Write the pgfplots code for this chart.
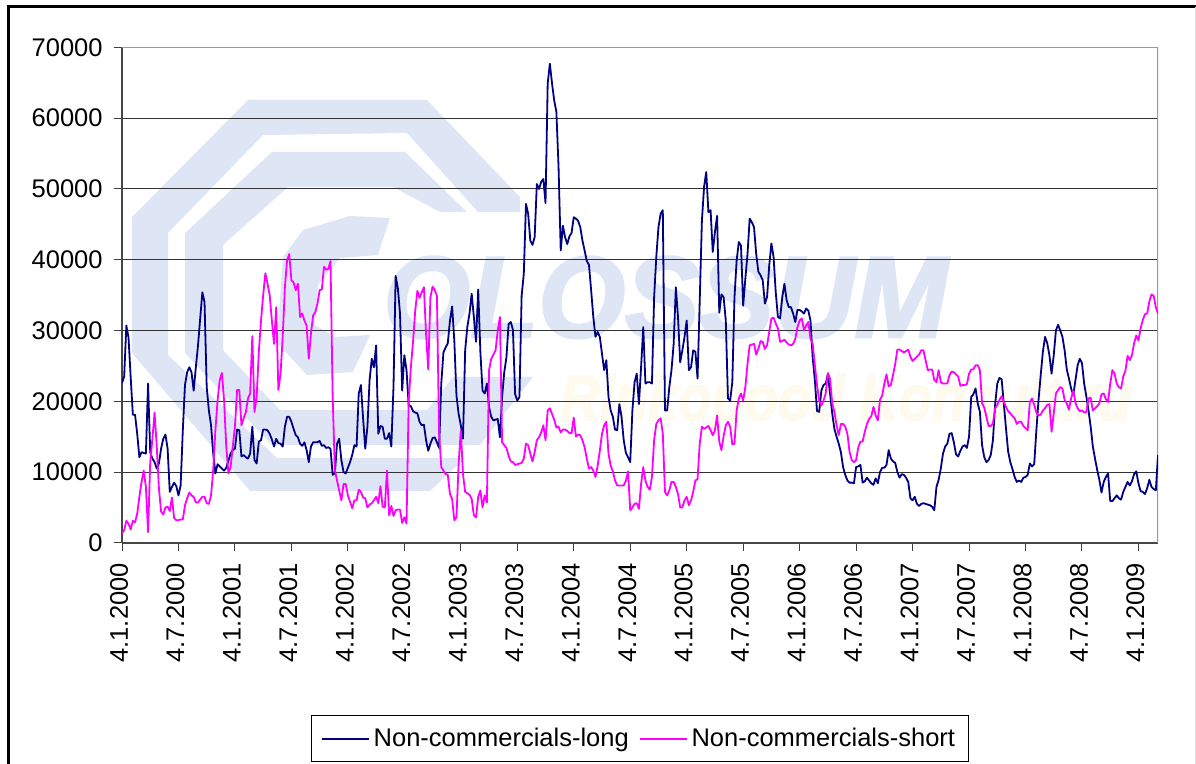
\documentclass[border=0pt]{standalone}
\usepackage{pgfplots}
\pgfplotsset{compat=1.18}
\usepackage{fontspec}
\setmainfont{Liberation Sans}
\newfontfamily\wmfont[BoldItalicFeatures={FakeBold=2.5}]{Liberation Sans}
\definecolor{wm}{HTML}{DEE6F6}
\definecolor{wmo}{HTML}{FEFAEE}
\definecolor{lng}{HTML}{000080}
\definecolor{sht}{HTML}{FF00FF}
\begin{document}
\begin{tikzpicture}
\begin{scope}[x=0.5pt,y=-0.5pt]
\useasboundingbox (0,0) rectangle (1196,764);
\fill[white] (0,0) rectangle (1196,764);
\fill[wm] (132,217)--(132,353)--(250,491)--(430,491)--(465,458)--(277,458)--(168,355)--(168,233)--(263,135)--(407,133)--(478,212)--(520,212)--(520,197)--(427,100)--(248,100)--cycle;
\fill[wm] (272,152)--(405,152)--(467,212)--(440,212)--(393,187)--(288,187)--(223,245)--(223,350)--(280,410)--(460,410)--(460,445)--(272,445)--(185,353)--(185,233)--cycle;
\fill[wm] (390,218)--(350,216)--(303,230)--(283,257)--(277,343)--(307,375)--(353,372)--(370,335)--(335,337)--(315,325)--(318,285)--(340,258)--(378,255)--cycle;
\fill[wm] (453,377)--(533,377)--(480,445)--(400,445)--cycle;
\node[anchor=base west,inner sep=0pt,text=wm,xscale=0.97] at (383,337) {\wmfont\fontsize{57.5}{60}\selectfont\bfseries\itshape OLOSSUM};
\node[anchor=base west,inner sep=0pt,text=wmo,xscale=0.85] at (560,420) {\wmfont\fontsize{32}{34}\selectfont\bfseries\itshape Rinkopood Konsult.ru};
\draw[black,line width=1.2pt] (8.5,764)--(8.5,6.5)--(1196,6.5);
\draw[black!12,line width=0.5pt] (1195,7)--(1195,764);
\end{scope}
\begin{axis}[
  at={(61pt,-271.4pt)},anchor=south west,
  scale only axis,width=518pt,height=247.7pt,
  xmin=0,xmax=477,ymin=0,ymax=70000,
  axis x line=bottom,axis y line=left,
  axis line style={draw=black!72,line width=0.75pt,-},
  ytick={0,10000,20000,30000,40000,50000,60000,70000},
  xtick={0,26,52,78,104,130,156,182,208,234,260,286,312,338,364,390,416,442,468},
  xticklabels={4.1.2000,4.7.2000,4.1.2001,4.7.2001,4.1.2002,4.7.2002,4.1.2003,4.7.2003,4.1.2004,4.7.2004,4.1.2005,4.7.2005,4.1.2006,4.7.2006,4.1.2007,4.7.2007,4.1.2008,4.7.2008,4.1.2009},
  tick align=outside,tick pos=lower,major tick length=4pt,
  tick style={draw=black!75,line width=0.5pt},
  ymajorgrids,
  major grid style={draw=black!80,line width=0.5pt},
  scaled ticks=false,
  /pgf/number format/1000 sep={},
  /pgf/number format/assume math mode=true,
  tick label style={font=\fontsize{12.75}{15}\selectfont},
  xticklabel style={rotate=90,anchor=east,xshift=-5pt,yshift=1.5pt,inner sep=1pt,/pgf/number format/.cd},
  yticklabel style={inner sep=0pt,xshift=-5.5pt},
  legend columns=2,
  legend style={at={(0.5,-0.3485)},anchor=north,draw=black,line width=0.5pt,fill=white,
    font=\fontsize{12.75}{15}\selectfont,inner xsep=4.5pt,inner ysep=4pt,
    /tikz/every even column/.append style={column sep=3pt}},
  legend image code/.code={\draw[#1] (0pt,0pt)--(21pt,0pt);\path (0pt,0pt)--(23.5pt,0pt);},
]
\draw[draw=black!40,line width=1pt] (rel axis cs:0,1)--(rel axis cs:1,1)--(rel axis cs:1,0);
\addplot[lng,line width=0.9pt,line join=round] coordinates {
(0,22600)(1,23500)(2,30700)(3,29000)(4,23400)(5,18100)(6,18100)(7,15400)(8,12100)(9,12800)
(10,12700)(11,12600)(12,22500)(13,12800)(14,11900)(15,11400)(16,10500)(17,11200)(18,13300)(19,14700)
(20,15300)(21,13300)(22,7200)(23,7900)(24,8500)(25,8000)(26,6700)(27,8100)(28,15900)(29,22300)
(30,24100)(31,24800)(32,24100)(33,21500)(34,24800)(35,27900)(36,31700)(37,35400)(38,34000)(39,22000)
(40,18700)(41,16600)(42,12600)(43,9800)(44,11100)(45,10800)(46,10500)(47,10200)(48,10600)(49,11600)
(50,12600)(51,13100)(52,13300)(53,16000)(54,15900)(55,12200)(56,12400)(57,12100)(58,11900)(59,12600)
(60,16400)(61,11700)(62,11200)(63,14300)(64,14500)(65,16000)(66,16000)(67,15900)(68,15400)(69,14600)
(70,13600)(71,14700)(72,14100)(73,14000)(74,13600)(75,16400)(76,17800)(77,17800)(78,17100)(79,16100)
(80,15200)(81,14900)(82,14000)(83,13700)(84,14200)(85,13100)(86,11400)(87,13600)(88,14200)(89,14200)
(90,14200)(91,14400)(92,13700)(93,13800)(94,13400)(95,13500)(96,13300)(97,9600)(98,9800)(99,14000)
(100,14700)(101,11700)(102,10000)(103,9800)(104,10600)(105,11400)(106,12400)(107,13800)(108,13600)(109,21100)
(110,22300)(111,17600)(112,13300)(113,16400)(114,23000)(115,26000)(116,24800)(117,27900)(118,15400)(119,16500)
(120,16400)(121,14700)(122,14700)(123,15500)(124,13600)(125,22000)(126,37700)(127,36000)(128,32400)(129,21500)
(130,26500)(131,24400)(132,19400)(133,19300)(134,18600)(135,18400)(136,18300)(137,17100)(138,16600)(139,16700)
(140,14500)(141,13000)(142,14000)(143,14800)(144,14900)(145,14200)(146,13400)(147,22500)(148,26900)(149,27600)
(150,28200)(151,31400)(152,33400)(153,28600)(154,20800)(155,18200)(156,16600)(157,14700)(158,27200)(159,30500)
(160,32400)(161,35200)(162,31900)(163,28400)(164,35800)(165,27000)(166,21500)(167,21100)(168,22500)(169,19200)
(170,17800)(171,17300)(172,17400)(173,17500)(174,14900)(175,20600)(176,24100)(177,26200)(178,30900)(179,31200)
(180,30100)(181,21000)(182,20100)(183,20600)(184,34900)(185,38000)(186,47900)(187,46500)(188,42700)(189,42100)
(190,43200)(191,50700)(192,50000)(193,51000)(194,51400)(195,48000)(196,64900)(197,67700)(198,64900)(199,62500)
(200,60900)(201,53100)(202,41300)(203,44800)(204,43200)(205,42200)(206,43300)(207,43800)(208,46000)(209,45800)
(210,45500)(211,44600)(212,42700)(213,41300)(214,39800)(215,39300)(216,35700)(217,31900)(218,29100)(219,29800)
(220,29100)(221,26700)(222,24400)(223,25800)(224,20600)(225,18700)(226,17800)(227,16000)(228,15900)(229,19600)
(230,17800)(231,14500)(232,12700)(233,12100)(234,11400)(235,18700)(236,22700)(237,23900)(238,19600)(239,24800)
(240,30500)(241,22500)(242,22700)(243,22700)(244,22500)(245,34700)(246,40400)(247,44600)(248,46500)(249,47000)
(250,18700)(251,18700)(252,22000)(253,24400)(254,28100)(255,36100)(256,31900)(257,25500)(258,27200)(259,29100)
(260,31400)(261,24400)(262,24800)(263,27200)(264,27000)(265,23200)(266,34200)(267,45500)(268,50300)(269,52400)
(270,46700)(271,47000)(272,41100)(273,43900)(274,46200)(275,32500)(276,35100)(277,34700)(278,31400)(279,20400)
(280,20100)(281,22700)(282,34700)(283,39900)(284,42500)(285,42000)(286,33500)(287,37300)(288,40800)(289,45800)
(290,45300)(291,44600)(292,40800)(293,38300)(294,37800)(295,37100)(296,33800)(297,34700)(298,39200)(299,42300)
(300,40400)(301,35400)(302,31900)(303,31700)(304,34700)(305,36600)(306,34300)(307,33300)(308,33300)(309,32400)
(310,31200)(311,32900)(312,32900)(313,32700)(314,32400)(315,33100)(316,32800)(317,31400)(318,26200)(319,23000)
(320,18600)(321,18500)(322,21500)(323,22300)(324,22500)(325,23800)(326,21100)(327,18300)(328,16100)(329,15000)
(330,14000)(331,12800)(332,10700)(333,9600)(334,8800)(335,8500)(336,8500)(337,8400)(338,10700)(339,10800)
(340,11000)(341,8500)(342,8700)(343,9200)(344,8800)(345,8400)(346,8200)(347,9100)(348,8400)(349,10000)
(350,10600)(351,10600)(352,11000)(353,13100)(354,11900)(355,11500)(356,11300)(357,10000)(358,9200)(359,9700)
(360,9600)(361,9200)(362,8600)(363,6300)(364,6000)(365,6500)(366,5500)(367,5200)(368,5500)(369,5600)
(370,5500)(371,5400)(372,5300)(373,5100)(374,4600)(375,7900)(376,8900)(377,10500)(378,12600)(379,13600)
(380,14000)(381,15400)(382,15500)(383,14200)(384,12500)(385,12200)(386,13000)(387,13600)(388,13800)(389,13400)
(390,15000)(391,20600)(392,21000)(393,21800)(394,19700)(395,18500)(396,13800)(397,12100)(398,11400)(399,11700)
(400,12400)(401,14500)(402,19500)(403,22500)(404,23300)(405,23100)(406,19700)(407,16200)(408,12900)(409,11400)
(410,10400)(411,9300)(412,8600)(413,8800)(414,8600)(415,9200)(416,9300)(417,9600)(418,11200)(419,10800)
(420,11100)(421,15900)(422,20200)(423,23700)(424,27000)(425,29100)(426,28200)(427,26500)(428,23900)(429,26500)
(430,30000)(431,30800)(432,30000)(433,29100)(434,27200)(435,24500)(436,23200)(437,21800)(438,20900)(439,23000)
(440,25100)(441,26000)(442,25400)(443,22500)(444,20700)(445,18700)(446,16400)(447,13600)(448,11900)(449,10300)
(450,8900)(451,7100)(452,8600)(453,9300)(454,9800)(455,5900)(456,5900)(457,6300)(458,6700)(459,6300)
(460,6100)(461,7200)(462,7900)(463,8600)(464,8100)(465,8700)(466,9700)(467,10100)(468,8400)(469,7300)
(470,7200)(471,6900)(472,7700)(473,8900)(474,7900)(475,7600)(476,7400)(477,12400)
};
\addlegendentry{Non-commercials-long}
\addplot[sht,line width=0.9pt,line join=round] coordinates {
(0,1300)(1,1800)(2,3100)(3,2700)(4,1900)(5,3100)(6,2900)(7,4100)(8,6500)(9,8600)
(10,10200)(11,7900)(12,1500)(13,11400)(14,14700)(15,18400)(16,13600)(17,7700)(18,4400)(19,4000)
(20,5000)(21,5100)(22,4500)(23,6400)(24,3500)(25,3200)(26,3200)(27,3300)(28,3300)(29,5300)
(30,6300)(31,7100)(32,6700)(33,6500)(34,5700)(35,5700)(36,6100)(37,6500)(38,6500)(39,5600)
(40,5500)(41,6700)(42,10300)(43,15900)(44,20100)(45,23000)(46,24000)(47,20100)(48,13600)(49,9800)
(50,10700)(51,13600)(52,16400)(53,21600)(54,21600)(55,16600)(56,17600)(57,18400)(58,20400)(59,21100)
(60,29200)(61,18500)(62,20600)(63,27000)(64,31400)(65,35000)(66,38100)(67,36600)(68,35000)(69,31400)
(70,28100)(71,33300)(72,21600)(73,23900)(74,29100)(75,36100)(76,39900)(77,40800)(78,37100)(79,36800)
(80,35700)(81,36600)(82,31900)(83,32400)(84,31400)(85,30700)(86,26000)(87,29600)(88,32100)(89,32600)
(90,33800)(91,35700)(92,35800)(93,39000)(94,38600)(95,38700)(96,39800)(97,20600)(98,10300)(99,8800)
(100,7400)(101,6000)(102,8300)(103,8300)(104,6700)(105,5800)(106,4900)(107,6000)(108,6000)(109,7500)
(110,7200)(111,6400)(112,6300)(113,5000)(114,5400)(115,5600)(116,6000)(117,6500)(118,5600)(119,8000)
(120,5100)(121,5000)(122,10200)(123,3900)(124,5200)(125,3800)(126,4600)(127,4700)(128,4700)(129,2800)
(130,3600)(131,2700)(132,20000)(133,24800)(134,28400)(135,32800)(136,35600)(137,34600)(138,35400)(139,36100)
(140,29500)(141,24500)(142,34700)(143,36200)(144,35700)(145,34900)(146,15400)(147,10700)(148,10200)(149,9700)
(150,9600)(151,6900)(152,6200)(153,3200)(154,3600)(155,11200)(156,15900)(157,9700)(158,7200)(159,7000)
(160,6800)(161,6200)(162,3900)(163,3600)(164,6500)(165,7400)(166,5000)(167,6700)(168,5700)(169,24400)
(170,26000)(171,26600)(172,27200)(173,30000)(174,31900)(175,14200)(176,13800)(177,13400)(178,12300)(179,11500)
(180,11400)(181,11000)(182,11100)(183,11200)(184,11300)(185,11900)(186,14000)(187,13800)(188,12600)(189,11500)
(190,12800)(191,14500)(192,14900)(193,15600)(194,16600)(195,14500)(196,18700)(197,19000)(198,18200)(199,17400)
(200,16300)(201,16400)(202,15600)(203,16000)(204,16000)(205,15800)(206,15500)(207,15500)(208,17700)(209,15000)
(210,15300)(211,15200)(212,14500)(213,13500)(214,11900)(215,10500)(216,10700)(217,10200)(218,9300)(219,10900)
(220,13000)(221,15400)(222,16600)(223,17100)(224,12600)(225,10900)(226,10100)(227,8800)(228,8100)(229,8100)
(230,8100)(231,8100)(232,8800)(233,10100)(234,4600)(235,5000)(236,5500)(237,5600)(238,4800)(239,8300)
(240,10700)(241,8800)(242,7900)(243,7500)(244,9300)(245,14500)(246,16800)(247,17300)(248,17600)(249,15400)
(250,7200)(251,6700)(252,7400)(253,8600)(254,8600)(255,7900)(256,6900)(257,5000)(258,5000)(259,6000)
(260,6500)(261,5300)(262,6000)(263,7200)(264,8800)(265,9000)(266,14000)(267,16400)(268,16100)(269,16300)
(270,16500)(271,15900)(272,15200)(273,15900)(274,18000)(275,14300)(276,13100)(277,15100)(278,16600)(279,17100)
(280,16400)(281,13900)(282,14000)(283,18700)(284,20400)(285,21100)(286,20100)(287,22000)(288,25300)(289,27900)
(290,28000)(291,28100)(292,26600)(293,27400)(294,28500)(295,28400)(296,27400)(297,27900)(298,29800)(299,31700)
(300,31800)(301,31000)(302,30300)(303,28400)(304,28500)(305,28700)(306,28300)(307,28000)(308,27900)(309,28100)
(310,28800)(311,30500)(312,31400)(313,31700)(314,30000)(315,30700)(316,31200)(317,28800)(318,28100)(319,25100)
(320,22300)(321,20100)(322,19400)(323,20100)(324,21100)(325,24000)(326,23200)(327,19700)(328,18500)(329,16600)
(330,15200)(331,16800)(332,16800)(333,16400)(334,15400)(335,12800)(336,11700)(337,11400)(338,11700)(339,13500)
(340,14300)(341,14300)(342,15700)(343,16800)(344,17500)(345,17900)(346,19200)(347,18000)(348,17300)(349,20200)
(350,20800)(351,22500)(352,23800)(353,22100)(354,22300)(355,23700)(356,25300)(357,27300)(358,27300)(359,27100)
(360,26900)(361,27100)(362,27300)(363,26300)(364,25700)(365,26000)(366,26300)(367,26600)(368,27200)(369,27200)
(370,25800)(371,24400)(372,24500)(373,24500)(374,23000)(375,22700)(376,24400)(377,22700)(378,22500)(379,22500)
(380,22500)(381,23700)(382,24200)(383,24100)(384,23800)(385,23500)(386,22200)(387,22300)(388,22300)(389,22400)
(390,23900)(391,24500)(392,24500)(393,25100)(394,25100)(395,24400)(396,19700)(397,19100)(398,17800)(399,16500)
(400,16500)(401,16900)(402,19000)(403,19500)(404,20200)(405,20700)(406,19900)(407,19200)(408,18600)(409,18300)
(410,17900)(411,17600)(412,16800)(413,17100)(414,17100)(415,16500)(416,16200)(417,15900)(418,19900)(419,20400)
(420,19500)(421,18400)(422,18000)(423,18100)(424,18700)(425,19000)(426,19500)(427,19600)(428,15700)(429,18300)
(430,21100)(431,21600)(432,22000)(433,21800)(434,20200)(435,19700)(436,18800)(437,20400)(438,21500)(439,19800)
(440,19000)(441,18600)(442,18700)(443,18400)(444,18500)(445,20400)(446,20500)(447,18700)(448,19000)(449,19300)
(450,19700)(451,21000)(452,21100)(453,20300)(454,19900)(455,22500)(456,24400)(457,23900)(458,22500)(459,22000)
(460,21800)(461,23500)(462,24300)(463,26400)(464,25800)(465,26500)(466,28200)(467,29300)(468,28600)(469,30300)
(470,31500)(471,32300)(472,32400)(473,34100)(474,35100)(475,34900)(476,33300)(477,32400)
};
\addlegendentry{Non-commercials-short}
\end{axis}
\end{tikzpicture}
\end{document}
